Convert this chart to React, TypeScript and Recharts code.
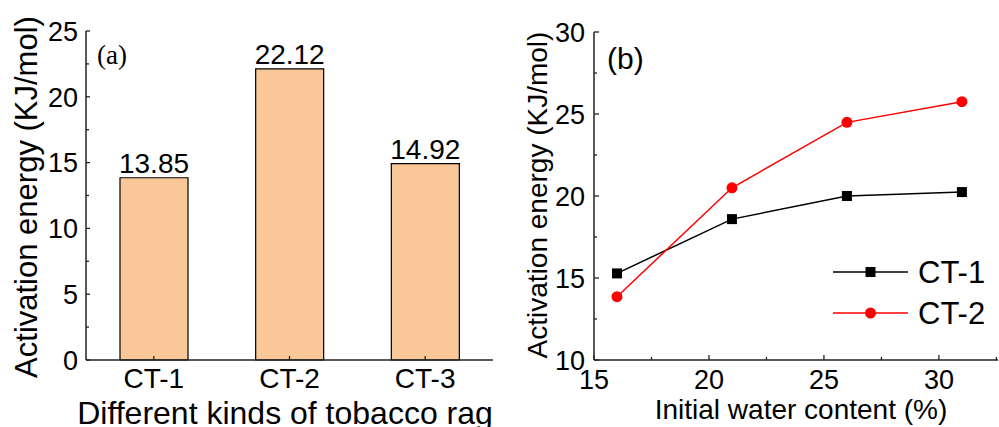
import React from 'react';
import { BarChart, Bar, LineChart, Line, XAxis, YAxis, LabelList } from 'recharts';

// (a) bar chart data
const kinds = ['CT-1', 'CT-2', 'CT-3'];
const kindEnergy = [13.85, 22.12, 14.92];

// (b) line chart data
const waterContent = [16, 21, 26, 31];
const ct1Energy = [15.28, 18.59, 20.0, 20.24];
const ct2Energy = [13.86, 20.5, 24.49, 25.75];

const leftYTicks = [0, 2.5, 5, 7.5, 10, 12.5, 15, 17.5, 20, 22.5, 25];
const rightYTicks = [10, 12.5, 15, 17.5, 20, 22.5, 25, 27.5, 30];
const rightXTicks = [15, 17.5, 20, 22.5, 25, 27.5, 30, 32.5];
const seriesNames = ['CT-1', 'CT-2'];

const barData = kinds.map((k, i) => ({ kind: k, energy: kindEnergy[i] }));
const lineData = waterContent.map((w, i) => ({ w, ct1: ct1Energy[i], ct2: ct2Energy[i] }));

const SANS = '"Liberation Sans", Arial, sans-serif';
const SERIF = '"Liberation Serif", "Times New Roman", serif';
const AXIS = '#222';

const isMajor = (v: number) => Math.abs(v % 5) < 1e-6;

// y ticks drawn inward, label left of axis
const makeYTick = (major: number, minor: number, fontSize: number, gap: number) => (props: any) => {
  const { x, y, payload } = props;
  const m = isMajor(payload.value);
  return (
    <g>
      <line x1={x} x2={x + (m ? major : minor)} y1={y} y2={y} stroke={AXIS} strokeWidth={1.3} />
      {m && (
        <text x={x - gap} y={y} dy="0.36em" textAnchor="end" fontSize={fontSize} fontFamily={SANS} fill="#000">
          {payload.value}
        </text>
      )}
    </g>
  );
};

const makeXTick = (major: number, minor: number, fontSize: number, dy: number, checkMajor: boolean) => (props: any) => {
  const { x, y, payload } = props;
  const m = checkMajor ? isMajor(payload.value) : true;
  return (
    <g>
      <line x1={x} x2={x} y1={y} y2={y - (m ? major : minor)} stroke={AXIS} strokeWidth={1.3} />
      {m && (
        <text x={x} y={y + dy} textAnchor="middle" fontSize={fontSize} fontFamily={SANS} fill="#000">
          {payload.value}
        </text>
      )}
    </g>
  );
};

const SquareDot = (props: any) => {
  const { cx, cy } = props;
  if (cx == null || cy == null) return null;
  return <rect x={cx - 5} y={cy - 5} width={10} height={10} fill="#000" />;
};

const CircleDot = (props: any) => {
  const { cx, cy } = props;
  if (cx == null || cy == null) return null;
  return <circle cx={cx} cy={cy} r={5.5} fill="#ff0000" />;
};

export default function App() {
  return (
    <div style={{ position: 'absolute', left: 0, top: 0, width: 999, height: 427, background: '#fff', overflow: 'hidden' }}>
      <div style={{ position: 'absolute', left: 0, top: 0 }}>
        <BarChart width={500} height={427} data={barData} margin={{ top: 31, right: 7, bottom: 37, left: 46 }}>
          <XAxis
            dataKey="kind"
            height={30}
            tickSize={0}
            tickMargin={0}
            stroke={AXIS}
            strokeWidth={1.5}
            tick={makeXTick(4, 4, 28, 28, false)}
            tickLine={false}
          />
          <XAxis xAxisId="top" dataKey="kind" orientation="top" height={0} tick={false} tickLine={false} stroke={AXIS} strokeWidth={1.5} />
          <YAxis
            domain={[0, 25]}
            ticks={leftYTicks}
            width={40}
            tickSize={0}
            tickMargin={0}
            stroke={AXIS}
            strokeWidth={1.5}
            tick={makeYTick(4, 3, 27, 8)}
            tickLine={false}
            interval={0}
          />
          <YAxis yAxisId="right" orientation="right" width={0} domain={[0, 25]} tick={false} tickLine={false} stroke={AXIS} strokeWidth={1.5} />
          <Bar dataKey="energy" fill="#FAC898" stroke="#000" strokeWidth={1.2} barSize={68} isAnimationActive={false}>
            <LabelList dataKey="energy" position="top" offset={5} fontSize={28} fontFamily={SANS} fill="#000" />
          </Bar>
          <text x={97} y={64} fontSize={27} fontFamily={SERIF} fill="#000">(a)</text>
          <text
            x={37}
            y={197}
            transform="rotate(-90 37 197)"
            textAnchor="middle"
            fontSize={31}
            fontFamily={SANS}
            fill="#000"
          >
            Activation energy (KJ/mol)
          </text>
          <text x={285} y={424} textAnchor="middle" fontSize={32} fontFamily={SANS} fill="#000">
            Different kinds of tobacco rag
          </text>
        </BarChart>
      </div>
      <div style={{ position: 'absolute', left: 500, top: 0 }}>
        <LineChart width={499} height={427} data={lineData} margin={{ top: 32, right: 1, bottom: 37, left: 54 }}>
          <XAxis
            dataKey="w"
            type="number"
            domain={[15, 32.57]}
            ticks={rightXTicks}
            allowDataOverflow
            height={30}
            tickSize={0}
            tickMargin={0}
            stroke={AXIS}
            strokeWidth={1.5}
            tick={makeXTick(5, 3, 27, 29, true)}
            tickLine={false}
            interval={0}
          />
          <XAxis xAxisId="top" dataKey="w" type="number" domain={[15, 32.57]} orientation="top" height={0} tick={false} tickLine={false} stroke="#555" strokeWidth={1.5} />
          <YAxis
            domain={[10, 30]}
            ticks={rightYTicks}
            width={40}
            tickSize={0}
            tickMargin={0}
            stroke={AXIS}
            strokeWidth={1.5}
            tick={makeYTick(5, 3, 27, 9)}
            tickLine={false}
            interval={0}
          />
          <Line dataKey="ct1" name={seriesNames[0]} stroke="#000" strokeWidth={1.5} dot={<SquareDot />} activeDot={false} isAnimationActive={false} />
          <Line dataKey="ct2" name={seriesNames[1]} stroke="#ff0000" strokeWidth={1.5} dot={<CircleDot />} activeDot={false} isAnimationActive={false} />
          {/* legend, drawn in place */}
          <g>
            <line x1={333} x2={408} y1={272} y2={272} stroke="#000" strokeWidth={1.5} />
            <rect x={365.5} y={267} width={10} height={10} fill="#000" />
            <text x={418} y={283} fontSize={31} fontFamily={SANS} fill="#000">{seriesNames[0]}</text>
            <line x1={333} x2={408} y1={313} y2={313} stroke="#ff0000" strokeWidth={1.5} />
            <circle cx={370.5} cy={313} r={5.5} fill="#ff0000" />
            <text x={418} y={324} fontSize={31} fontFamily={SANS} fill="#000">{seriesNames[1]}</text>
          </g>
          <text x={107} y={69} fontSize={30} fontFamily={SANS} fill="#000">(b)</text>
          <text
            x={47}
            y={195}
            transform="rotate(-90 47 195)"
            textAnchor="middle"
            fontSize={28}
            fontFamily={SANS}
            fill="#000"
          >
            Activation energy (KJ/mol)
          </text>
          <text x={301} y={419} textAnchor="middle" fontSize={28} fontFamily={SANS} fill="#000">
            Initial water content (%)
          </text>
        </LineChart>
      </div>
    </div>
  );
}
